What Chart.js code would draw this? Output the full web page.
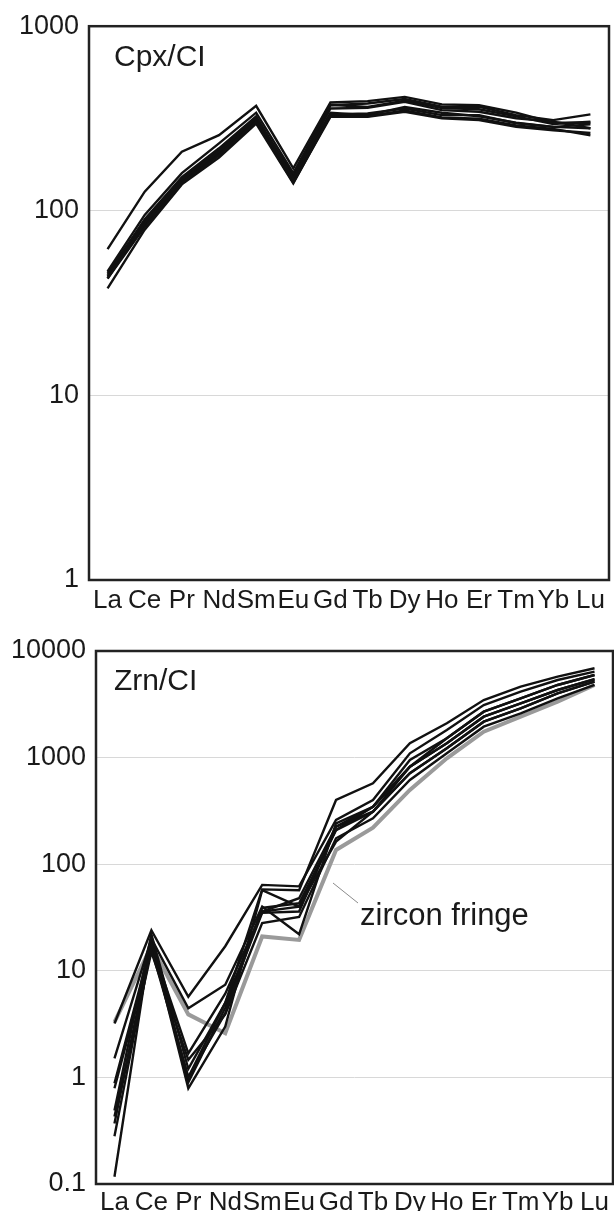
<!DOCTYPE html>
<html><head><meta charset="utf-8">
<script src="https://cdn.jsdelivr.net/npm/chart.js@4.4.0/dist/chart.umd.min.js"></script>
<style>
html,body{margin:0;padding:0;background:#fff;}
#w1{position:absolute;left:0;top:0;width:614px;height:620px;}
#w2{position:absolute;left:0;top:620px;width:614px;height:591px;}
</style></head><body>
<div id="w1"><canvas id="c1"></canvas></div>
<div id="w2"><canvas id="c2"></canvas></div>
<script>
// ---- data ----
const elements = ['La','Ce','Pr','Nd','Sm','Eu','Gd','Tb','Dy','Ho','Er','Tm','Yb','Lu'];
const cpxTicks = [1, 10, 100, 1000];
const zrnTicks = [0.1, 1, 10, 100, 1000, 10000];

// Clinopyroxene / CI
const cpx1 = [62, 127, 209, 257, 370, 170, 386, 393, 414, 377, 373, 340, 300, 300];
const cpx2 = [47, 95, 160, 232, 340, 160, 373, 381, 403, 366, 366, 330, 310, 333];
const cpx3 = [45, 90, 152, 218, 325, 150, 358, 361, 389, 351, 344, 317, 304, 280];
const cpx4 = [43, 86, 147, 210, 318, 145, 333, 337, 358, 330, 330, 298, 285, 294];
const cpx5 = [43, 82, 142, 200, 305, 142, 323, 323, 344, 317, 310, 285, 273, 264];
const cpx6 = [38, 79, 139, 194, 297, 141, 330, 325, 350, 320, 315, 290, 278, 256];
const cpx7 = [46, 88, 150, 215, 320, 155, 375, 365, 395, 360, 355, 325, 295, 304];
const cpx8 = [44, 84, 145, 205, 310, 148, 340, 330, 365, 340, 325, 300, 285, 280];

// Zircon / CI
const zrn1 = [0.49, 22, 1.2, 5, 58, 57, 400, 574, 1362, 2099, 3470, 4624, 5741, 6885];
const zrn2 = [3.2, 24, 5.7, 17, 64, 62, 260, 400, 1097, 1816, 3115, 4150, 5346, 6397];
const zrn3 = [1.51, 20, 4.45, 7.4, 40, 22, 242, 346, 950, 1517, 2697, 3600, 4800, 5957];
const zrn4 = [0.88, 18, 1.68, 6.1, 36, 48, 225, 346, 822, 1362, 2421, 3230, 4307, 5430];
const zrn5 = [0.79, 16, 1.0, 4, 39, 43, 209, 311, 713, 1222, 2173, 2900, 4011, 5150];
const zrn6 = [0.43, 15, 1.46, 3.9, 28, 32, 175, 270, 616, 1097, 1950, 2606, 3600, 4800];
const zrn7 = [0.37, 19, 0.79, 3.0, 57, 40, 163, 311, 713, 1222, 2173, 2900, 4011, 5150];
const zrn8 = [0.28, 17, 1.0, 5, 36, 40, 209, 346, 822, 1362, 2421, 3230, 4307, 5430];
const zrn9 = [0.117, 21, 0.9, 4.5, 35, 36, 225, 311, 822, 1517, 2697, 3600, 4800, 5957];
const zrnFringe = [3.3, 17, 3.9, 2.6, 21, 19.5, 136, 220, 497, 985, 1750, 2420, 3344, 4800];

// ---- styling / charts ----
const FONT = "'Liberation Sans', Arial, Helvetica, sans-serif";
const TXT = '#1a1a1a';

function blackSet(d){ return {data:d, borderColor:'#111', borderWidth:2.4, pointRadius:0, tension:0, fill:false, order:0}; }

const framePlugin = {
  id:'frame',
  afterDraw(chart, args, opts){
    const {ctx, chartArea:a} = chart;
    ctx.save();
    ctx.strokeStyle = '#222'; ctx.lineWidth = 2.5;
    ctx.strokeRect(a.left, a.top, a.right - a.left, a.bottom - a.top);
    ctx.fillStyle = TXT;
    ctx.font = '30px ' + FONT;
    ctx.textBaseline = 'alphabetic';
    ctx.fillText(opts.label, a.left + opts.lx, a.top + opts.ly);
    if (opts.note) {
      const n = opts.note;
      ctx.strokeStyle = '#8a8a8a'; ctx.lineWidth = 1;
      ctx.beginPath();
      ctx.moveTo(a.left + n.x1, a.top + n.y1);
      ctx.lineTo(a.left + n.x2, a.top + n.y2);
      ctx.stroke();
      ctx.fillStyle = TXT;
      ctx.font = '31px ' + FONT;
      ctx.fillText(n.text, a.left + n.tx, a.top + n.ty);
    }
    ctx.restore();
  }
};

function makeChart(id, datasets, o){
  return new Chart(document.getElementById(id), {
    type:'line',
    data:{labels:elements, datasets},
    plugins:[framePlugin],
    options:{
      responsive:true, maintainAspectRatio:false, animation:false,
      layout:{padding:o.padding},
      plugins:{legend:{display:false}, tooltip:{enabled:false},
        frame:{label:o.label, lx:o.lx, ly:o.ly, note:o.note}},
      scales:{
        x:{type:'category', offset:true,
          grid:{display:false, drawTicks:false},
          border:{display:false},
          ticks:{autoSkip:false, maxRotation:0, minRotation:0, padding:o.xPad, color:TXT,
                 font:{family:FONT, size:26}},
          afterFit(s){ s.height = o.xHeight; }
        },
        y:{type:'logarithmic', min:o.ticks[0], max:o.ticks[o.ticks.length-1],
          afterBuildTicks(s){ s.ticks = o.ticks.map(v => ({value:v})); },
          grid:{color:'#d8d8d8', lineWidth:1, drawTicks:false},
          border:{display:false},
          ticks:{padding:o.yPad, color:TXT, font:{family:FONT, size:27},
                 callback:(v) => String(v)},
          afterFit(s){ s.width = o.yWidth; }
        }
      }
    }
  });
}

makeChart('c1', [cpx1,cpx2,cpx3,cpx4,cpx5,cpx6,cpx7,cpx8].map(blackSet), {
  ticks:cpxTicks, padding:{top:24, right:5, left:0, bottom:0},
  xHeight:40, yWidth:89, xPad:5, yPad:10,
  label:'Cpx/CI', lx:25, ly:40
});

const zrnSets = [zrn1,zrn2,zrn3,zrn4,zrn5,zrn6,zrn7,zrn8,zrn9].map(blackSet);
zrnSets.push({data:zrnFringe, borderColor:'#9a9a9a', borderWidth:4, pointRadius:0, tension:0, fill:false, order:1});

makeChart('c2', zrnSets, {
  ticks:zrnTicks, padding:{top:31, right:1, left:0, bottom:0},
  xHeight:27, yWidth:96, xPad:3, yPad:10,
  label:'Zrn/CI', lx:18, ly:39,
  note:{x1:237, y1:232, x2:262, y2:252, tx:264, ty:274, text:'zircon fringe'}
});
</script>
</body></html>
